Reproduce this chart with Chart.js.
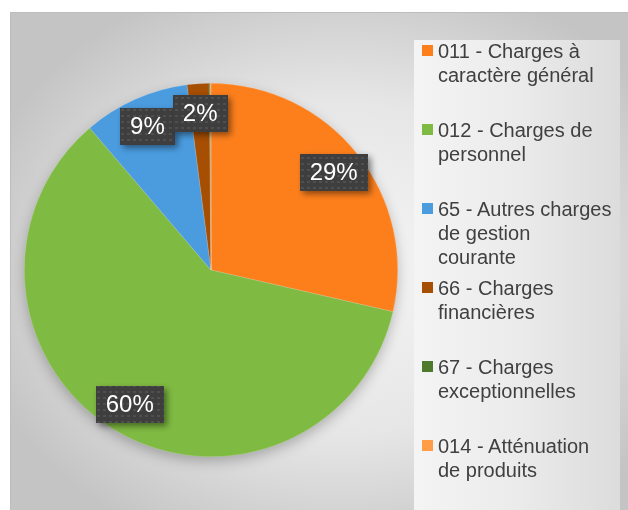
<!DOCTYPE html>
<html>
<head>
<meta charset="utf-8">
<script src="https://cdn.jsdelivr.net/npm/chart.js@4/dist/chart.umd.min.js"></script>
<style>
  html, body { margin: 0; padding: 0; background: #fff; }
  #wrap { position: relative; width: 628px; height: 510px; overflow: hidden; }
  #frame {
    position: absolute; left: 10px; top: 12px; width: 630px; height: 510px;
    border-left: 1px solid #bdbdbd; border-top: 1px solid #bdbdbd;
    background: radial-gradient(ellipse 60% 60% at 52% 50%, #f6f6f6 0%, #e6e6e6 55%, #c4c4c4 100%);
  }
  #legendPanel {
    position: absolute; left: 414px; top: 40px; width: 206px; height: 480px;
    background: linear-gradient(90deg, #f4f4f4 0%, #ebebeb 50%, #dcdcdc 100%);
  }
  #chart-pie { position: absolute; left: 0; top: 0; }
  #legend { position: absolute; left: 414px; top: 0; width: 214px; height: 510px;
    font-family: "Liberation Sans", Arial, sans-serif; font-size: 20px; color: #404040; }
  .item { position: absolute; left: 24px; line-height: 24px; white-space: nowrap; }
  .swatch { position: absolute; left: -16px; top: 6px; width: 11px; height: 11px; }
</style>
</head>
<body>
<div id="wrap">
  <div id="frame"></div>
  <div id="legendPanel"></div>
  <canvas id="chart-pie" width="628" height="510"></canvas>
  <div id="legend"></div>
</div>
<script>
// categories (legend lines) and shares
const categories = [
  ['011 - Charges à', 'caractère général'],
  ['012 - Charges de', 'personnel'],
  ['65 - Autres charges', 'de gestion', 'courante'],
  ['66 - Charges', 'financières'],
  ['67 - Charges', 'exceptionnelles'],
  ['014 - Atténuation', 'de produits'],
];
const shares = [28.6, 60.2, 9.2, 1.9, 0.1, 0.05];
const colors = ['#fd7f1c', '#7fba42', '#4a9cdf', '#a64e02', '#4e7a2b', '#ff9c48'];

// dotted dark fill used behind the data labels
const makePattern = (ctx) => {
  const tile = document.createElement('canvas');
  tile.width = 6; tile.height = 6;
  const t = tile.getContext('2d');
  t.fillStyle = '#3e3e3e';
  t.fillRect(0, 0, 6, 6);
  t.fillStyle = '#4f4f4f';
  t.fillRect(1, 1, 3, 2);
  return ctx.createPattern(tile, 'repeat');
};

const pieShadow = {
  id: 'pieShadow',
  beforeDatasetsDraw(chart) {
    const arc = chart.getDatasetMeta(0).data[0];
    if (!arc) return;
    const { ctx } = chart;
    ctx.save();
    ctx.shadowColor = 'rgba(0,0,0,0.28)';
    ctx.shadowBlur = 14;
    ctx.shadowOffsetY = 5;
    ctx.fillStyle = '#bbbbbb';
    ctx.beginPath();
    ctx.arc(arc.x, arc.y, arc.outerRadius - 1, 0, Math.PI * 2);
    ctx.fill();
    ctx.restore();
  },
};

const boxLabels = {
  id: 'boxLabels',
  afterDatasetsDraw(chart) {
    const { ctx } = chart;
    const meta = chart.getDatasetMeta(0);
    const total = shares.reduce((a, b) => a + b, 0);
    const pattern = makePattern(ctx);
    ctx.save();
    ctx.font = '24px "Liberation Sans", Arial, sans-serif';
    ctx.textAlign = 'center';
    ctx.textBaseline = 'middle';
    meta.data.forEach((arc, i) => {
      const pct = Math.round(shares[i] / total * 100);
      if (pct < 1) return;
      const mid = (arc.startAngle + arc.endAngle) / 2;
      const r = arc.outerRadius * 0.84;
      const x = arc.x + Math.cos(mid) * r;
      const y = arc.y + Math.sin(mid) * r;
      const text = pct + '%';
      const w = ctx.measureText(text).width + 20;
      const h = 37;
      ctx.save();
      ctx.shadowColor = 'rgba(0,0,0,0.45)';
      ctx.shadowBlur = 6;
      ctx.shadowOffsetX = 3;
      ctx.shadowOffsetY = 3;
      ctx.fillStyle = pattern;
      ctx.fillRect(Math.round(x - w / 2), Math.round(y - h / 2), Math.round(w), h);
      ctx.restore();
      ctx.fillStyle = '#ffffff';
      ctx.fillText(text, x, y + 1);
    });
    ctx.restore();
  },
};

const canvas = document.getElementById('chart-pie');
new Chart(canvas.getContext('2d'), {
  type: 'pie',
  data: {
    labels: categories.map((c) => c.join(' ')),
    datasets: [{
      data: shares,
      backgroundColor: colors,
      borderColor: 'rgba(255,255,255,0.3)',
      borderWidth: 0.5,
    }],
  },
  options: {
    responsive: false,
    animation: false,
    layout: { padding: { left: 24, right: 230, top: 83, bottom: 53 } },
    plugins: { legend: { display: false }, tooltip: { enabled: false } },
  },
  plugins: [pieShadow, boxLabels],
});

// legend on the right, one evenly spaced slot per category
const legend = document.getElementById('legend');
categories.forEach((lines, i) => {
  const item = document.createElement('div');
  item.className = 'item';
  item.style.top = (39 + i * 79) + 'px';
  item.innerHTML = '<span class="swatch" style="background:' + colors[i] + '"></span>' + lines.join('<br>');
  legend.appendChild(item);
});
</script>
</body>
</html>
